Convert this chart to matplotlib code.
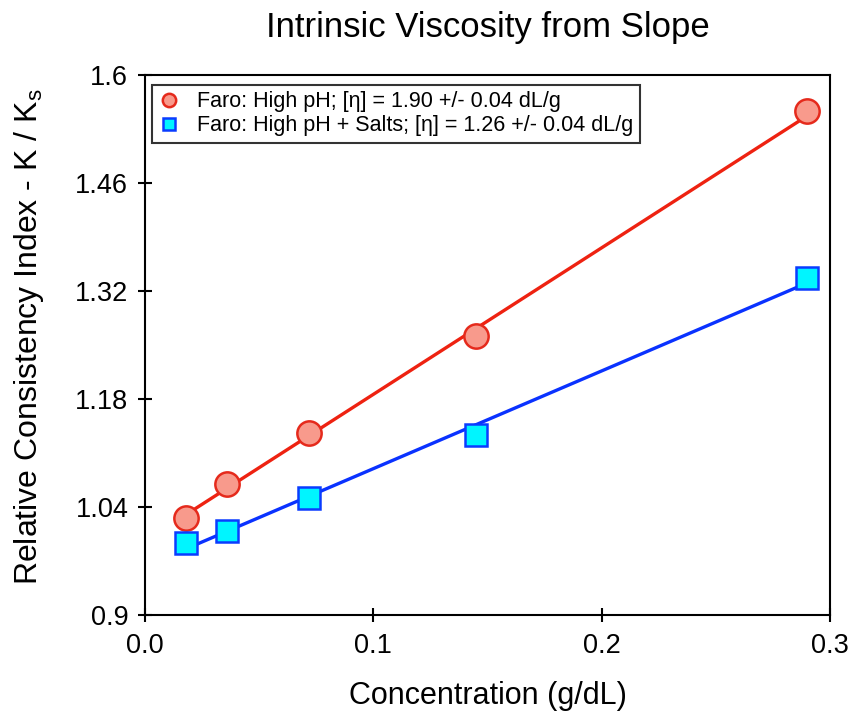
import matplotlib
matplotlib.use("Agg")
import matplotlib.pyplot as plt
import numpy as np

plt.rcParams['font.family'] = ['Liberation Sans', 'DejaVu Sans']
plt.rcParams['mathtext.default'] = 'regular'

conc = [0.018, 0.036, 0.072, 0.145, 0.290]
high_ph = [1.026, 1.070, 1.136, 1.262, 1.553]
high_ph_salts = [0.993, 1.009, 1.052, 1.133, 1.337]

fit_high_ph = (1.90, 0.996)        # slope, intercept
fit_high_ph_salts = (1.267, 0.963)

label_high_ph = "Faro: High pH; [η] = 1.90 +/- 0.04 dL/g"
label_salts = "Faro: High pH + Salts; [η] = 1.26 +/- 0.04 dL/g"

xticks = [0.0, 0.1, 0.2, 0.3]
xticklabels = ["0.0", "0.1", "0.2", "0.3"]
yticks = [0.9, 1.04, 1.18, 1.32, 1.46, 1.6]
yticklabels = ["0.9", "1.04", "1.18", "1.32", "1.46", "1.6"]

fig = plt.figure(figsize=(8.52, 7.15), dpi=100)
ax = fig.add_axes([145/852, 100/715, 685/852, 540/715])

xfit = np.array([conc[0], conc[-1]])
ax.plot(xfit, fit_high_ph[0]*xfit + fit_high_ph[1], color='#ee2211', lw=2.4, zorder=2)
ax.plot(xfit, fit_high_ph_salts[0]*xfit + fit_high_ph_salts[1], color='#0a32ff', lw=2.4, zorder=2)

ax.plot(conc, high_ph, 'o', ms=17.5, mfc='#f89a8c', mec='#e52a1c', mew=1.8, zorder=3, label=label_high_ph)
ax.plot(conc, high_ph_salts, 's', ms=16, mfc='#00f5ff', mec='#0a3cff', mew=1.8, zorder=3, label=label_salts)

ax.set_xlim(0, 0.3)
ax.set_ylim(0.9, 1.6)
ax.set_xticks(xticks)
ax.set_xticklabels(xticklabels)
ax.set_yticks(yticks)
ax.set_yticklabels(yticklabels)
ax.tick_params(direction='inout', length=10, width=1.5, labelsize=19.5, pad=7)
ax.tick_params(axis='x', pad=8)
for s in ax.spines.values():
    s.set_linewidth(1.5)

ax.set_xlabel("Concentration (g/dL)", fontsize=22, labelpad=16)
ax.set_ylabel("Relative Consistency Index - K / K$_{s}$", fontsize=23)
ax.yaxis.set_label_coords(-0.144, 0.516)
ax.set_title("Intrinsic Viscosity from Slope", fontsize=25, pad=27)

handles, labels = ax.get_legend_handles_labels()
leg = ax.legend(handles, labels, loc='upper left', bbox_to_anchor=(0.004, 0.99),
                fontsize=15.5, frameon=True, fancybox=False, markerscale=0.55,
                handlelength=1.0, handletextpad=0.8, borderpad=0.3, labelspacing=0.15,
                borderaxespad=0.2)
leg.get_frame().set_edgecolor('black')
leg.get_frame().set_linewidth(1.5)

fig.savefig("out.png", dpi=100)
